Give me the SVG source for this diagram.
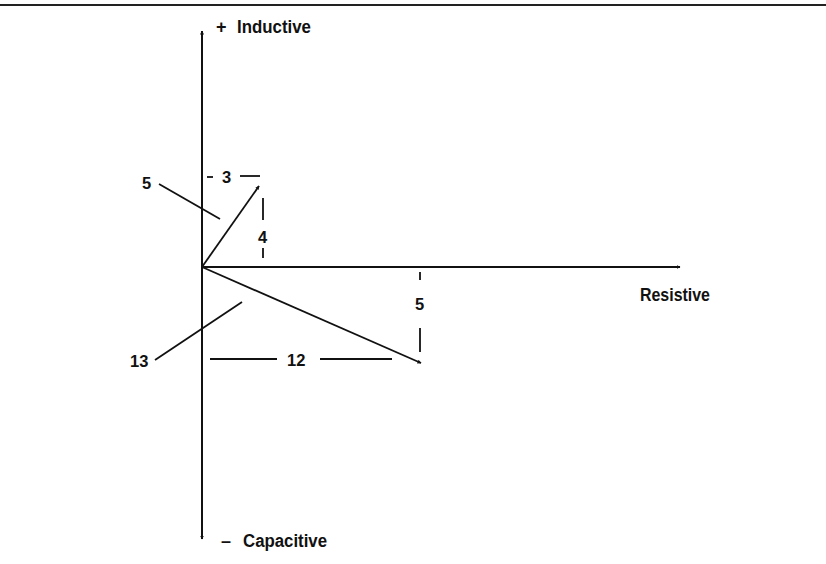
<svg xmlns="http://www.w3.org/2000/svg" width="826" height="564" viewBox="0 0 826 564">
<style>
.ln{stroke:#111;stroke-width:1.8;fill:none;stroke-linecap:butt}
.ax{stroke:#111;stroke-width:2;fill:none}
.dim{stroke:#111;stroke-width:1.8;fill:none}
.t{font-family:"Liberation Sans",Arial,sans-serif;font-weight:bold;font-size:16.5px;fill:#111}
.lbl{font-family:"Liberation Sans",Arial,sans-serif;font-weight:bold;font-size:18px;fill:#111}
</style>
<defs>
<marker id="ah" viewBox="0 0 8 8" refX="7" refY="4" markerWidth="4" markerHeight="4" orient="auto" markerUnits="userSpaceOnUse">
<path d="M0,0 L8,4 L0,8 Z" fill="#111"/>
</marker>
</defs>
<rect width="826" height="564" fill="#fff"/>
<line x1="0" y1="5" x2="826" y2="5" stroke="#222" stroke-width="2"/>
<g id="connectors">
<line id="axis-v-up" class="ax" x1="202" y1="267" x2="202" y2="31" marker-end="url(#ah)"/>
<line id="axis-v-down" class="ax" x1="202" y1="267" x2="202" y2="539" marker-end="url(#ah)"/>
<line id="axis-h" class="ax" x1="202" y1="267" x2="680" y2="267" marker-end="url(#ah)"/>
<line id="vec-inductive" class="ln" x1="202" y1="267" x2="259" y2="186" marker-end="url(#ah)"/>
<line id="vec-capacitive" class="ln" x1="202" y1="267" x2="421" y2="363" marker-end="url(#ah)"/>
<line id="leader-5" class="ln" x1="159" y1="184" x2="220" y2="219"/>
<line id="leader-13" class="ln" x1="155" y1="360" x2="242" y2="302"/>
</g>
<g id="dim-3">
<line class="dim" x1="207" y1="177" x2="213" y2="177"/>
<text class="t" x="222" y="183">3</text>
<line class="dim" x1="240" y1="176" x2="260" y2="176"/>
</g>
<g id="dim-4">
<line class="dim" x1="263" y1="198" x2="263" y2="220"/>
<text class="t" x="258" y="243">4</text>
<line class="dim" x1="263" y1="248" x2="263" y2="258"/>
</g>
<g id="dim-12">
<line class="dim" x1="210" y1="359" x2="277" y2="359"/>
<text class="t" x="287" y="366">12</text>
<line class="dim" x1="320" y1="359" x2="392" y2="359"/>
</g>
<g id="dim-5b">
<line class="dim" x1="420" y1="272" x2="420" y2="280"/>
<text class="t" x="415" y="310">5</text>
<line class="dim" x1="420" y1="328" x2="420" y2="352"/>
</g>
<g id="label-5"><text class="t" x="142" y="189">5</text></g>
<g id="label-13"><text class="t" x="130" y="367">13</text></g>
<g id="label-inductive"><text class="lbl" x="216" y="33">+<tspan x="237" textLength="74" lengthAdjust="spacingAndGlyphs">Inductive</tspan></text></g>
<g id="label-resistive"><text class="lbl" x="640" y="301" textLength="70" lengthAdjust="spacingAndGlyphs">Resistive</text></g>
<g id="label-capacitive"><text class="lbl" x="221" y="547">–<tspan x="243" textLength="84" lengthAdjust="spacingAndGlyphs">Capacitive</tspan></text></g>
</svg>
